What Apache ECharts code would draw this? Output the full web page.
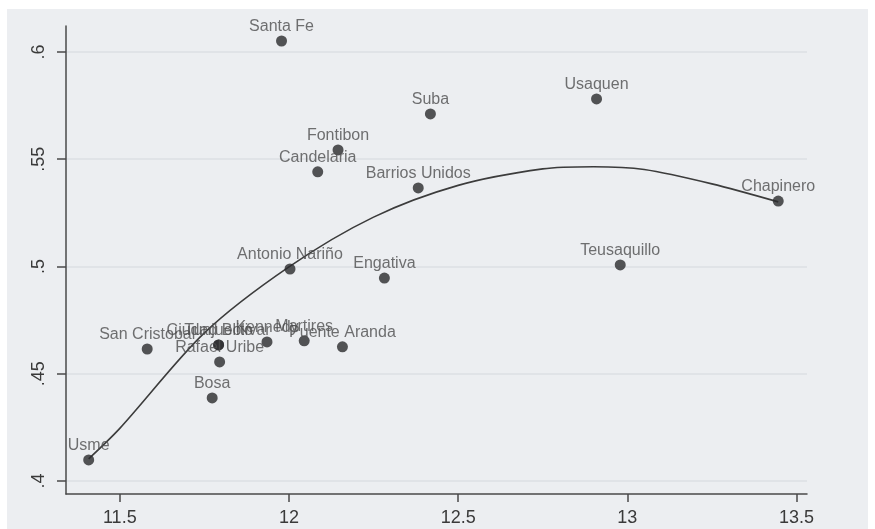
<!DOCTYPE html>
<html>
<head>
<meta charset="utf-8">
<script src="https://cdn.jsdelivr.net/npm/echarts@6/dist/echarts.min.js"></script>
<style>
  html, body { margin: 0; padding: 0; background: #ffffff; }
  #paper { position: absolute; left: 7px; top: 9px; width: 861px; height: 520px; background: #eceef1; }
  #chart { position: absolute; left: 0; top: 0; width: 875px; height: 529px; }
</style>
</head>
<body>
<div id="paper"></div>
<div id="chart"></div>
<script>
// Localities: log income (x) vs. Gini-type index (y)
const localities = [
  'Santa Fe', 'Usaquen', 'Suba', 'Fontibon', 'Candelaria', 'Barrios Unidos',
  'Chapinero', 'Teusaquillo', 'Antonio Nariño', 'Engativa', 'San Cristobal',
  'Tunjuelito', 'Ciudad Bolivar', 'Rafael Uribe', 'Kennedy', 'Martires',
  'Puente Aranda', 'Bosa', 'Usme'
];
const xValues = [
  11.978, 12.909, 12.418, 12.145, 12.085, 12.382,
  13.446, 12.979, 12.003, 12.282, 11.581,
  11.792, 11.792, 11.795, 11.935, 12.045,
  12.158, 11.773, 11.408
];
const yValues = [
  0.6051, 0.5781, 0.5711, 0.5543, 0.5441, 0.5366,
  0.5305, 0.5007, 0.4988, 0.4946, 0.4615,
  0.4634, 0.4634, 0.4555, 0.4648, 0.4653,
  0.4625, 0.4387, 0.4098
];

// Quadratic fit curve, sampled along x
const fitX = [11.408, 11.5, 11.75, 12.0, 12.25, 12.5, 12.75, 12.9, 13.05, 13.25, 13.446];
const fitY = [0.4103, 0.4245, 0.4690, 0.4998, 0.5230, 0.5378, 0.5455, 0.5465, 0.5452, 0.5385, 0.5301];

// Axis ticks
const xTicks = [11.5, 12, 12.5, 13, 13.5];
const xTickLabels = ['11.5', '12', '12.5', '13', '13.5'];
const yTicks = [0.4, 0.45, 0.5, 0.55, 0.6];
const yTickLabels = ['.4', '.45', '.5', '.55', '.6'];

const labelShift = { 'Ciudad Bolivar': [-40, 0] };

const points = localities.map((name, i) => {
  const item = { name: name, value: [xValues[i], yValues[i]] };
  if (labelShift[name]) item.label = { offset: labelShift[name] };
  return item;
});

const chart = echarts.init(document.getElementById('chart'), null, { renderer: 'canvas' });
const axisColor = '#4a4a4a';
const textFont = '"Liberation Sans", Arial, sans-serif';

chart.setOption({
  backgroundColor: 'transparent',
  animation: false,
  grid: { left: 66, right: 68, top: 26, bottom: 35, containLabel: false },
  xAxis: {
    type: 'value',
    min: 11.341,
    max: 13.531,
    axisLine: { show: true, lineStyle: { color: axisColor, width: 1.5 } },
    axisTick: { show: true, length: 8, customValues: xTicks, lineStyle: { color: axisColor, width: 1.5 } },
    axisLabel: {
      customValues: xTicks,
      margin: 15,
      fontSize: 18,
      color: '#3a3a3a',
      fontFamily: textFont,
      formatter: v => xTickLabels[xTicks.findIndex(t => Math.abs(t - v) < 1e-6)] ?? ''
    },
    splitLine: { show: false }
  },
  yAxis: {
    type: 'value',
    min: 0.3939,
    max: 0.6121,
    axisLine: { show: true, lineStyle: { color: axisColor, width: 1.5 } },
    axisTick: { show: true, length: 9, customValues: yTicks, lineStyle: { color: axisColor, width: 1.5 } },
    axisLabel: {
      customValues: yTicks,
      rotate: 90,
      margin: 18,
      fontSize: 18,
      color: '#3a3a3a',
      fontFamily: textFont,
      formatter: v => yTickLabels[yTicks.findIndex(t => Math.abs(t - v) < 1e-6)] ?? ''
    },
    splitLine: { show: false }
  },
  series: [
    {
      // faint horizontal rules at the y ticks, kept beneath everything else
      type: 'line',
      data: [],
      silent: true,
      z: 0,
      markLine: {
        silent: true,
        z: 0,
        symbol: ['none', 'none'],
        label: { show: false },
        lineStyle: { color: '#dcdfe3', width: 1.5, type: 'solid' },
        data: yTicks.map(v => ({ yAxis: v }))
      }
    },
    {
      type: 'line',
      data: fitX.map((x, i) => [x, fitY[i]]),
      smooth: 0.3,
      showSymbol: false,
      silent: true,
      lineStyle: { color: '#3c3c3c', width: 1.6 },
      z: 2
    },
    {
      type: 'scatter',
      data: points,
      symbol: 'circle',
      symbolSize: 11,
      itemStyle: { color: '#2b2b2d' },
      label: {
        show: true,
        position: 'top',
        distance: 1,
        formatter: '{b}',
        fontSize: 16,
        color: '#4d4d4f',
        fontFamily: textFont
      },
      labelLayout: { hideOverlap: false },
      z: 3
    }
  ]
});
</script>
</body>
</html>
